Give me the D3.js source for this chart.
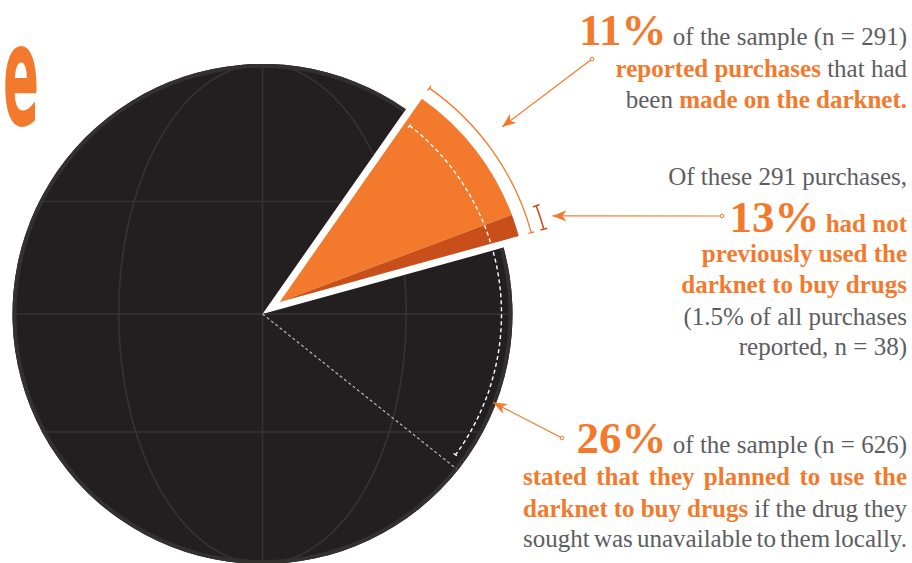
<!DOCTYPE html>
<html>
<head>
<meta charset="utf-8">
<script src="https://cdn.jsdelivr.net/npm/d3@7"></script>
<style>
  body { margin: 0; background: #fff; }
  svg { display: block; }
  .note { font-family: "Liberation Serif", "Times New Roman", serif; }
</style>
</head>
<body>
<div id="chart"></div>
<script>
// shares of the sample, in percent
const purchaseLabels = ["darknet", "elsewhere"];
const purchaseShares = [11, 89];
// split of the darknet purchases: used darknet before / first time
const darknetSplit = [87, 13];
const plannedShare = 26;

// annotation lines, right hand side
const noteLines = [
  { block: 0, parts: [["11%", "big"], [" of the sample (n = 291)", "plain"]] },
  { block: 0, parts: [["reported purchases", "bold"], [" that had", "plain"]] },
  { block: 0, parts: [["been ", "plain"], ["made on the darknet.", "bold"]] },
  { block: 1, parts: [["Of these 291 purchases,", "plain"]] },
  { block: 1, parts: [["13%", "big"], [" had not", "bold"]] },
  { block: 1, parts: [["previously used the", "bold"]] },
  { block: 1, parts: [["darknet to buy drugs", "bold"]] },
  { block: 1, parts: [["(1.5% of all purchases", "plain"]] },
  { block: 1, parts: [["reported, n = 38)", "plain"]] },
  { block: 2, parts: [["26%", "big"], [" of the sample (n = 626)", "plain"]] },
  { block: 2, parts: [["stated that they planned to use the", "bold"]], justify: true },
  { block: 2, parts: [["darknet to buy drugs", "bold"], [" if the drug they", "plain"]], justify: true },
  { block: 2, parts: [["sought was unavailable to them locally.", "plain"]], justify: true }
];
const noteBaselines = [45, 77, 108, 185, 232, 262, 293, 325, 355, 453, 485, 517, 547];

const width = 912, height = 563;
const orange = "#f37a2c", darkOrange = "#c94f1a", ink = "#231f20",
      grey = "#5d5d5f", gridCol = "#373334";

const svg = d3.select("#chart").append("svg")
    .attr("width", width)
    .attr("height", height);

const cx = 262.5, cy = 314, radius = 250;
const deg = Math.PI / 180;
const startAngle = 35 * deg;
const explode = 21;

const pie = d3.pie().sort(null)
    .startAngle(startAngle)
    .endAngle(startAngle + 2 * Math.PI);
const slices = pie(purchaseShares);
const darknet = slices[0], rest = slices[1];

const midAngle = (darknet.startAngle + darknet.endAngle) / 2;
const ax = cx + Math.sin(midAngle) * explode,
      ay = cy - Math.cos(midAngle) * explode;

const polar = (x0, y0, r, a) => [x0 + Math.sin(a) * r, y0 - Math.cos(a) * r];

// ---- dark globe slice
const arc = d3.arc().innerRadius(0).outerRadius(radius);
const globe = svg.append("g").attr("transform", `translate(${cx},${cy})`);

svg.append("clipPath").attr("id", "restClip")
  .append("path").attr("d", arc(rest));

globe.append("path")
    .attr("d", arc(rest))
    .attr("fill", ink);

const grid = globe.append("g")
    .attr("clip-path", "url(#restClip)")
    .attr("fill", "none")
    .attr("stroke", gridCol)
    .attr("stroke-width", 1.6);

[-0.45, 0, 0.472].forEach(f => {
  grid.append("line")
      .attr("x1", -radius).attr("x2", radius)
      .attr("y1", f * radius).attr("y2", f * radius);
});
grid.append("line")
    .attr("x1", 0).attr("x2", 0)
    .attr("y1", -radius).attr("y2", radius);
grid.append("ellipse")
    .attr("rx", radius * 0.575).attr("ry", radius);

// rim
globe.append("path")
    .attr("d", d3.arc().innerRadius(radius - 4).outerRadius(radius)(rest))
    .attr("fill", "#34302f");

// ---- exploded darknet slice
const slice = svg.append("g").attr("transform", `translate(${ax},${ay})`);
const sliceArc = d3.arc().innerRadius(0).outerRadius(radius - 2);
const subSlices = d3.pie().sort(null)
    .startAngle(darknet.startAngle)
    .endAngle(darknet.endAngle)(darknetSplit);

slice.selectAll("path.sub")
  .data(subSlices)
  .join("path")
    .attr("class", "sub")
    .attr("d", sliceArc)
    .attr("fill", (d, i) => i === 0 ? orange : darkOrange);

// ---- dimension arcs
function arcLine(g, x0, y0, r, a0, a1, tick, color, width, dash) {
  const p = d3.path();
  p.arc(x0, y0, r, a0 - Math.PI / 2, a1 - Math.PI / 2);
  [a0, a1].forEach(a => {
    const s = polar(x0, y0, r - tick, a), e = polar(x0, y0, r + tick, a);
    p.moveTo(s[0], s[1]);
    p.lineTo(e[0], e[1]);
  });
  g.append("path")
      .attr("d", p.toString())
      .attr("fill", "none")
      .attr("stroke", color)
      .attr("stroke-width", width)
      .attr("stroke-dasharray", dash || null);
}

const dims = svg.append("g");
// 11% arc
arcLine(dims, ax, ay, 261, darknet.startAngle, darknet.endAngle, 3, orange, 1.3);
// 13% bracket
arcLine(dims, ax, ay, 274, subSlices[1].startAngle, subSlices[1].endAngle, 3.5, darkOrange, 1.6);

// 26% planned arc
const plannedEnd = startAngle + plannedShare / 100 * 2 * Math.PI;
const rayEnd = polar(cx, cy, radius - 2, plannedEnd);
dims.append("line")
    .attr("x1", cx).attr("y1", cy)
    .attr("x2", rayEnd[0]).attr("y2", rayEnd[1])
    .attr("stroke", "#c4c4c4")
    .attr("stroke-width", 1.1)
    .attr("stroke-dasharray", "3 2.5");
arcLine(dims, cx, cy, 239, startAngle + 3 * deg, plannedEnd - 2.5 * deg, 2.5, "#fff", 1.4, "4 3");

// ---- arrows
const defs = svg.append("defs");
defs.append("marker")
    .attr("id", "head")
    .attr("markerUnits", "userSpaceOnUse")
    .attr("viewBox", "-14 -6 16 12")
    .attr("refX", 0).attr("refY", 0)
    .attr("markerWidth", 16).attr("markerHeight", 12)
    .attr("orient", "auto")
  .append("path")
    .attr("d", "M0,0L-14,-5.5L-10,0L-14,5.5Z")
    .attr("fill", orange);

const arrows = [
  { from: [592, 59], to: polar(ax, ay, 283, 51.8 * deg) },
  { from: [722, 216], to: polar(ax, ay, 286, 72.5 * deg) },
  { from: [562, 438], to: polar(cx, cy, 247, 111 * deg) }
];
const arrowG = svg.append("g");
arrows.forEach(d => {
  arrowG.append("line")
      .attr("x1", d.from[0]).attr("y1", d.from[1])
      .attr("x2", d.to[0]).attr("y2", d.to[1])
      .attr("stroke", orange)
      .attr("stroke-width", 1.2)
      .attr("marker-end", "url(#head)");
  arrowG.append("circle")
      .attr("cx", d.from[0]).attr("cy", d.from[1])
      .attr("r", 1.8)
      .attr("fill", "#fff")
      .attr("stroke", orange)
      .attr("stroke-width", 1);
});

// ---- notes
const styles = {
  big:   { size: 45, weight: "bold", fill: orange },
  bold:  { size: 25, weight: "bold", fill: orange },
  plain: { size: 25, weight: "normal", fill: grey }
};
const rightEdge = 907, leftEdge = 523;

const notes = svg.append("g").attr("class", "note");
noteLines.forEach((line, i) => {
  const t = notes.append("text")
      .attr("y", noteBaselines[i])
      .attr("x", line.justify ? leftEdge : rightEdge)
      .attr("text-anchor", line.justify ? "start" : "end")
      .style("white-space", "pre");
  line.parts.forEach(([txt, s]) => {
    t.append("tspan")
        .text(txt)
        .attr("font-size", styles[s].size)
        .attr("font-weight", styles[s].weight)
        .attr("fill", styles[s].fill);
  });
  if (line.justify) {
    const natural = t.node().getComputedTextLength();
    const gaps = line.parts.map(p => p[0]).join("").split(" ").length - 1;
    if (gaps > 0) t.attr("word-spacing", (rightEdge - leftEdge - natural) / gaps);
  }
});

// cut-off title letter, fitted into its box (x 3..38)
const title = svg.append("text")
    .attr("font-family", "'Liberation Sans Narrow', 'DejaVu Sans Condensed', sans-serif")
    .attr("font-weight", "bold")
    .attr("font-size", 140)
    .attr("fill", orange)
    .text("e");
const tb = title.node().getBBox();
const sx = 36 / tb.width;
title.attr("transform", `translate(${3 - tb.x * sx},125) scale(${sx},1)`);
</script>
</body>
</html>
